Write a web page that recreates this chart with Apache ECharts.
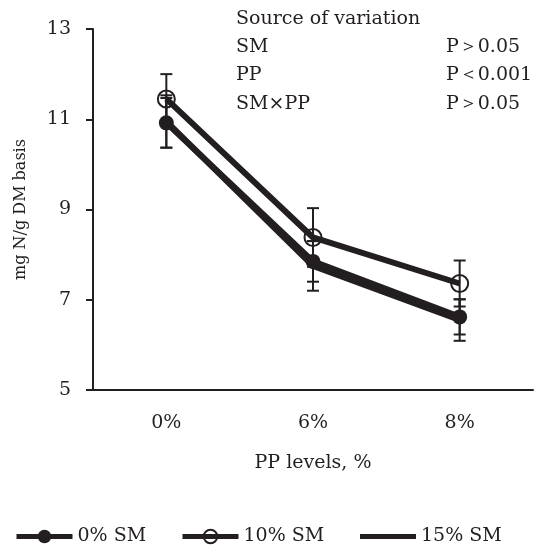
<!DOCTYPE html>
<html>
<head>
<meta charset="utf-8">
<script src="https://cdn.jsdelivr.net/npm/echarts@6/dist/echarts.min.js"></script>
<style>
html,body{margin:0;padding:0;background:#fff;}
#chart{width:547px;height:548px;}
</style>
</head>
<body>
<div id="chart"></div>
<script>
// ---- data ----
const categories = ['0%', '6%', '8%'];
const seriesNames = ['0% SM', '10% SM', '15% SM'];
const sm0  = [10.92, 7.85, 6.62];
const sm10 = [11.45, 8.38, 7.36];
const sm15 = [10.95, 7.75, 6.55];
const se0  = [0.55, 0.45, 0.39];
const se10 = [0.55, 0.65, 0.51];
const se15 = [0.58, 0.55, 0.46];
const yMin = 5, yMax = 13, yStep = 2;
const xTitle = 'PP levels, %';
const yTitle = 'mg N/g DM basis';
const statHeader = 'Source of variation';
const statSources = ['SM', 'PP', 'SM×PP'];
const statPValues = ['P＞0.05', 'P＜0.001', 'P＞0.05'];

const INK = '#231f20';
const SERIF = '"DejaVu Serif", "Liberation Serif", serif';

function errData(vals, se) {
  return vals.map((v, i) => [i, v - se[i], v + se[i]]);
}
function errRender(params, api) {
  const x = api.value(0);
  const lo = api.coord([x, api.value(1)]);
  const hi = api.coord([x, api.value(2)]);
  const hw = 6;
  const st = { stroke: INK, lineWidth: 2 };
  return {
    type: 'group',
    children: [
      { type: 'line', shape: { x1: lo[0], y1: lo[1], x2: hi[0], y2: hi[1] }, style: st },
      { type: 'line', shape: { x1: lo[0] - hw, y1: lo[1], x2: lo[0] + hw, y2: lo[1] }, style: st },
      { type: 'line', shape: { x1: hi[0] - hw, y1: hi[1], x2: hi[0] + hw, y2: hi[1] }, style: st }
    ]
  };
}

const chart = echarts.init(document.getElementById('chart'), null, { renderer: 'canvas' });

const graphics = [];
graphics.push({ type: 'text', x: 236, y: 19, style: { text: statHeader, font: '19px ' + SERIF, fill: INK, verticalAlign: 'middle' } });
statSources.forEach((s, i) => {
  graphics.push({ type: 'text', x: 236, y: 47 + i * 28.5, style: { text: s, font: '19px ' + SERIF, fill: INK, verticalAlign: 'middle' } });
  graphics.push({ type: 'text', x: 446, y: 47 + i * 28.5, style: { text: statPValues[i], font: '19px ' + SERIF, fill: INK, verticalAlign: 'middle' } });
});

const legendBase = {
  top: 527, itemWidth: 56, itemHeight: 17, itemGap: 4, padding: 0,
  textStyle: { fontFamily: SERIF, fontSize: 19, color: INK },
  lineStyle: { width: 5, color: INK }
};

chart.setOption({
  backgroundColor: '#fff',
  animation: false,
  grid: { left: 93, right: 14, top: 29, bottom: 158, containLabel: false },
  legend: [
    Object.assign({}, legendBase, { left: 14, data: [seriesNames[0]] }),
    Object.assign({}, legendBase, { left: 180, data: [seriesNames[1]] }),
    Object.assign({}, legendBase, { left: 360, itemHeight: 5, icon: 'rect', itemStyle: { color: INK }, data: [seriesNames[2]] })
  ],
  xAxis: {
    type: 'category',
    data: categories,
    boundaryGap: true,
    name: xTitle,
    nameLocation: 'middle',
    nameGap: 64,
    nameTextStyle: { fontFamily: SERIF, fontSize: 19, color: INK },
    axisLine: { lineStyle: { color: INK, width: 2 } },
    axisTick: { alignWithLabel: true, length: 7, lineStyle: { color: INK, width: 2 } },
    axisLabel: { margin: 24, fontFamily: SERIF, fontSize: 19, color: INK },
    splitLine: { show: false }
  },
  yAxis: {
    type: 'value',
    min: yMin, max: yMax, interval: yStep,
    name: yTitle,
    nameLocation: 'middle',
    nameGap: 64,
    nameTextStyle: { fontFamily: SERIF, fontSize: 16, color: INK },
    axisLine: { show: true, lineStyle: { color: INK, width: 2 } },
    axisTick: { show: true, length: 7, lineStyle: { color: INK, width: 2 } },
    axisLabel: { margin: 22, fontFamily: SERIF, fontSize: 19, color: INK },
    splitLine: { show: false }
  },
  graphic: graphics,
  series: [
    {
      name: seriesNames[2], type: 'line', data: sm15, z: 2,
      symbol: 'none',
      lineStyle: { color: INK, width: 6 }, itemStyle: { color: INK }
    },
    {
      name: seriesNames[0], type: 'line', data: sm0, z: 3,
      symbol: 'circle', symbolSize: 15,
      lineStyle: { color: INK, width: 6 }, itemStyle: { color: INK, borderWidth: 0 }
    },
    {
      name: seriesNames[1], type: 'line', data: sm10, z: 4,
      symbol: 'circle', symbolSize: 17,
      lineStyle: { color: INK, width: 6 },
      itemStyle: { color: 'rgba(255,255,255,0)', borderColor: INK, borderWidth: 2 }
    },
    { type: 'custom', name: 'err0', data: errData(sm0, se0), renderItem: errRender, z: 6, silent: true },
    { type: 'custom', name: 'err10', data: errData(sm10, se10), renderItem: errRender, z: 6, silent: true },
    { type: 'custom', name: 'err15', data: errData(sm15, se15), renderItem: errRender, z: 6, silent: true }
  ]
});
</script>
</body>
</html>
